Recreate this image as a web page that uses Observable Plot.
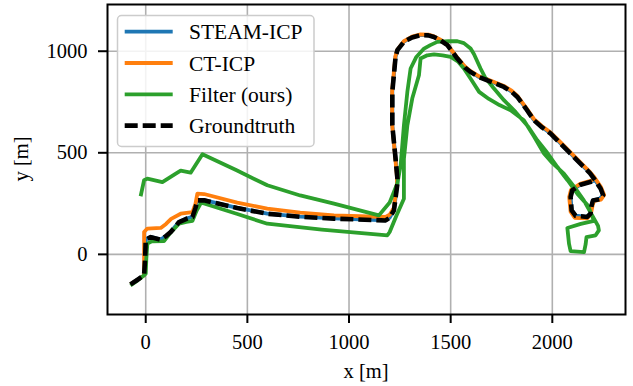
<!DOCTYPE html>
<html>
<head>
<meta charset="utf-8">
<script src="https://cdn.jsdelivr.net/npm/d3@7"></script>
<script src="https://cdn.jsdelivr.net/npm/@observablehq/plot@0.6"></script>
<style>
  html, body { margin: 0; padding: 0; background: white; }
  svg { display: block; }
</style>
</head>
<body>
<script>
const xTicks = [0, 500, 1000, 1500, 2000];
const yTicks = [0, 500, 1000];
const seriesNames = ["STEAM-ICP", "CT-ICP", "Filter (ours)", "Groundtruth"];
const seriesColors = ["#1f77b4", "#ff7f0e", "#2ca02c", "#000000"];

const groundtruth = [
  [-75,-148],[-40,-125],[-8,-103],[-3,-20],[0,72],[25,85],[74,72],[100,90],[123,110],[164,159],
  [200,175],[230,184],[245,230],[254,266],[287,266],[450,228],[598,200],[760,185],[926,176],[1180,167],
  [1200,180],[1221,217],[1238,348],[1238,373],[1229,471],[1213,635],[1213,800],[1229,972],[1238,1005],[1270,1046],
  [1310,1068],[1352,1079],[1390,1078],[1418,1070],[1452,1052],[1484,1030],[1533,964],[1570,920],[1598,898],[1640,872],
  [1680,857],[1762,824],[1800,800],[1828,775],[1870,718],[1910,660],[1950,625],[1992,594],[2030,556],[2074,512],
  [2115,470],[2155,430],[2185,400],[2205,373],[2238,323],[2250,291],[2232,272],[2200,265],[2193,240],[2188,200],
  [2172,184],[2115,190],[2095,217],[2090,282],[2098,315],[2139,343],[2205,362]
];

const steamIcp = [
  [-75,-147],[-40,-124],[-8,-102],[-3,-19],[0,73],[25,86],[74,73],[100,91],[123,111],[164,160],
  [200,176],[230,185],[245,231],[254,267],[287,267],[450,229],[598,201],[760,186],[926,177],[1180,168],
  [1200,181],[1221,218],[1238,349],[1238,374],[1229,472],[1213,636],[1213,801],[1229,973],[1238,1006],[1270,1047],
  [1310,1069],[1352,1080],[1390,1079],[1418,1071],[1452,1053],[1484,1031],[1533,965],[1570,921],[1598,899],[1640,873],
  [1680,858],[1762,825],[1800,801],[1828,776],[1870,719],[1910,661],[1950,626],[1992,595],[2030,557],[2074,513],
  [2115,471],[2155,431],[2185,401],[2205,374],[2238,324],[2250,292],[2232,273],[2200,266],[2193,241],[2188,201],
  [2172,185],[2115,191],[2095,218],[2090,283],[2098,316],[2139,344],[2205,363]
];

const ctIcp = [
  [-75,-148],[-40,-125],[-8,-103],[-8,36],[-8,110],[8,127],[74,130],[100,150],[125,175],[172,200],
  [230,208],[245,250],[254,299],[287,297],[450,255],[598,225],[760,205],[926,192],[1180,184],[1200,195],
  [1221,230],[1236,350],[1236,380],[1227,480],[1212,640],[1212,805],[1228,975],[1238,1008],[1270,1050],[1310,1072],
  [1352,1083],[1390,1082],[1418,1073],[1452,1055],[1484,1032],[1533,968],[1570,925],[1598,902],[1640,876],[1680,862],
  [1762,829],[1800,806],[1828,780],[1870,724],[1910,666],[1950,631],[1992,600],[2030,562],[2074,518],[2115,476],
  [2155,436],[2185,406],[2207,380],[2240,330],[2255,292],[2240,270],[2205,263],[2198,240],[2190,200],[2172,177],
  [2110,180],[2090,210],[2083,282],[2092,318],[2137,347],[2200,366]
];

const filterOurs = [
  [-75,-153],[-40,-128],[-5,-100],[0,-95],[3,-20],[8,53],[30,64],[90,65],[123,108],[164,151],
  [200,160],[230,165],[250,215],[270,250],[279,253],[447,200],[598,151],[866,122],[1189,94],[1200,110],
  [1233,190],[1270,274],[1270,471],[1287,635],[1311,767],[1344,882],[1352,964],[1385,980],[1418,984],[1460,980],
  [1500,972],[1535,950],[1565,915],[1600,862],[1640,800],[1688,765],[1740,735],[1795,709],[1860,660],[1910,580],
  [1959,496],[2000,450],[2057,397],[2110,330],[2155,266],[2205,176],[2225,140],[2229,118],[2213,94],[2168,85],
  [2164,50],[2156,11],[2090,16],[2082,53],[2074,130],[2140,150],[2205,165],[2175,240],[2123,299],[2075,365],
  [2025,430],[1975,500],[1926,562],[1880,630],[1820,700],[1762,759],[1710,820],[1670,870],[1647,915],[1615,985],
  [1598,1013],[1565,1040],[1533,1049],[1490,1050],[1434,1046],[1400,1030],[1369,1013],[1330,970],[1303,915],[1287,800],
  [1270,635],[1254,438],[1238,350],[1200,255],[1147,192],[926,250],[760,290],[598,340],[447,414],[279,493],
  [221,402],[172,412],[148,397],[82,356],[8,373],[-8,365],[-25,286]
];

const series = [steamIcp, ctIcp, filterOurs, groundtruth];
const font = "Liberation Serif, Times New Roman, serif";

const lineMark = (data, i, extra = {}) =>
  Plot.line(data, {x: d => d[0], y: d => d[1], stroke: seriesColors[i], strokeWidth: 3.8,
    strokeLinejoin: "round", strokeLinecap: "butt", ...extra});

const svg = Plot.plot({
  width: 633,
  height: 386,
  marginLeft: 107,
  marginRight: 8,
  marginTop: 4,
  marginBottom: 72,
  x: {domain: [-188, 2360]},
  y: {domain: [-296, 1230]},
  style: {fontFamily: font, fontSize: "20.5px", background: "white", color: "black"},
  marks: [
    Plot.gridX(xTicks, {stroke: "#b0b0b0", strokeOpacity: 1, strokeWidth: 1.6}),
    Plot.gridY(yTicks, {stroke: "#b0b0b0", strokeOpacity: 1, strokeWidth: 1.6}),
    lineMark(series[0], 0),
    lineMark(series[1], 1),
    lineMark(series[2], 2),
    lineMark(series[3], 3, {strokeWidth: 4.6, strokeDasharray: "13,5"}),
    Plot.frame({stroke: "black", strokeWidth: 2}),
    Plot.axisX(xTicks, {tickSize: 9, tickPadding: 11, strokeWidth: 2, label: null, fontSize: 20.5,
      fontFamily: font, tickFormat: d => String(d)}),
    Plot.axisY(yTicks, {tickSize: 9, tickPadding: 11, strokeWidth: 2, label: null, fontSize: 20.5,
      fontFamily: font, tickFormat: d => String(d)})
  ]
});
document.body.appendChild(svg);

// axis labels
const s = d3.select(svg);
s.append("text").attr("x", 366).attr("y", 378).attr("text-anchor", "middle")
  .attr("font-family", font).attr("font-size", 20.5).attr("fill", "black").text("x [m]");
s.append("text").attr("transform", "translate(28,159) rotate(-90)").attr("text-anchor", "middle")
  .attr("font-family", font).attr("font-size", 20.5).attr("fill", "black").text("y [m]");

// legend
const lg = s.append("g").attr("text-anchor", "start");
lg.append("rect").attr("x", 117.5).attr("y", 15.5).attr("width", 196.5).attr("height", 131)
  .attr("rx", 4).attr("fill", "white").attr("fill-opacity", 0.85).attr("stroke", "#cccccc").attr("stroke-width", 1.5);
seriesNames.forEach((name, i) => {
  const yy = 31.7 + i * 31.3;
  const ln = lg.append("line").attr("x1", 124.7).attr("x2", 172.7).attr("y1", yy).attr("y2", yy)
    .attr("stroke", seriesColors[i]).attr("stroke-width", i === 3 ? 4.6 : 3.8);
  if (i === 3) ln.attr("stroke-dasharray", "13,5");
  lg.append("text").attr("x", 189).attr("y", yy + 7.5).attr("text-anchor", "start")
    .style("font-family", font).style("font-size", "21.5px").attr("fill", "black").text(name);
});
</script>
</body>
</html>
